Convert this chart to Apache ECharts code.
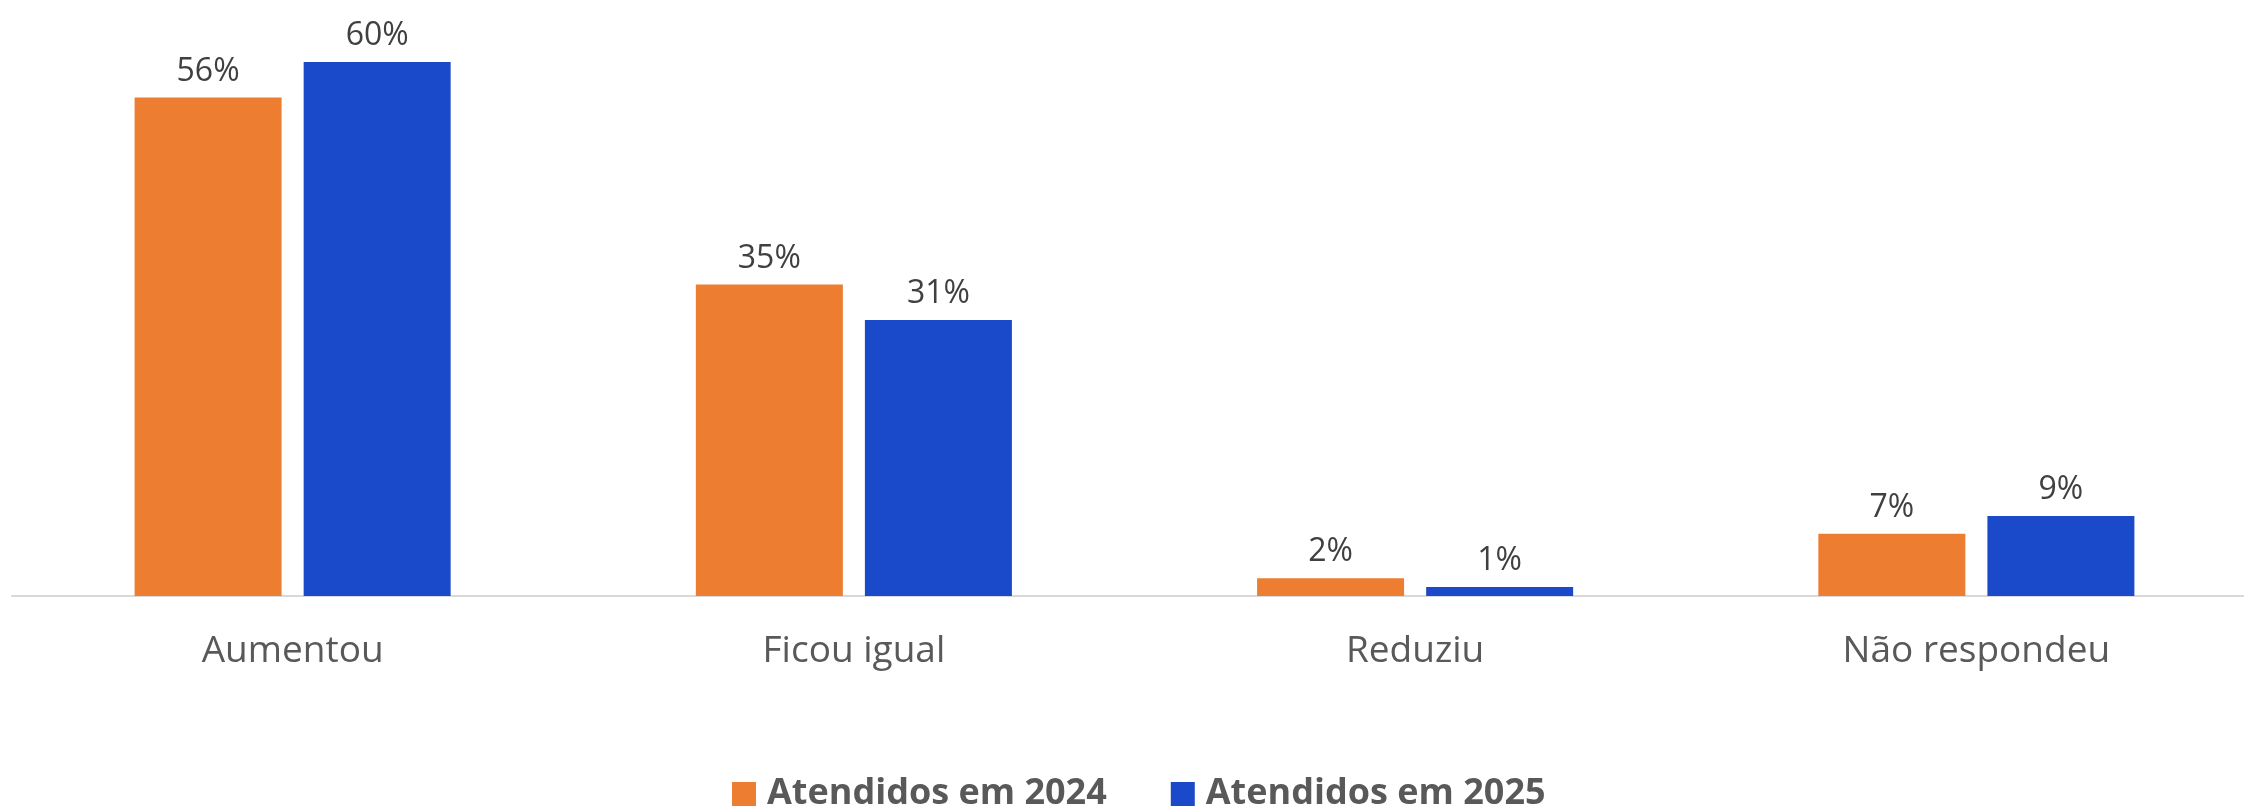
<!DOCTYPE html>
<html>
<head>
<meta charset="utf-8">
<script src="https://cdn.jsdelivr.net/npm/echarts@6/dist/echarts.min.js"></script>
<style>
html,body{margin:0;padding:0;background:#fff;}
#chart{width:2244px;height:807px;}
</style>
</head>
<body>
<div id="chart"></div>
<script>
const categories = ['Aumentou', 'Ficou igual', 'Reduziu', 'Não respondeu'];
const seriesNames = ['Atendidos em 2024', 'Atendidos em 2025'];
const values2024 = [56, 35, 2, 7];
const values2025 = [60, 31, 1, 9];
const colors = ['#ED7D31', '#1A4ACA'];

const chart = echarts.init(document.getElementById('chart'), null, {renderer: 'canvas'});
const labelStyle = {
  show: true,
  position: 'top',
  distance: 10,
  formatter: '{c}%',
  fontFamily: 'Open Sans',
  fontSize: 32,
  color: '#404040'
};
chart.setOption({
  animation: false,
  grid: {left: 12, width: 2245, top: 62, bottom: 211, containLabel: false, outerBoundsMode: 'none'},
  legend: {
    left: 732,
    top: 776,
    padding: 0,
    itemWidth: 24,
    itemHeight: 24,
    itemGap: 64,
    icon: 'rect',
    textStyle: {fontFamily: 'Open Sans', fontWeight: 'bold', fontSize: 36, color: '#595959', padding: [0, 0, 0, 6]},
    data: seriesNames
  },
  xAxis: {
    type: 'category',
    data: categories,
    axisLine: {lineStyle: {color: '#d9d9d9', width: 2}},
    axisTick: {show: false},
    axisLabel: {fontFamily: 'Open Sans', fontSize: 37, color: '#595959', margin: 37}
  },
  yAxis: {
    type: 'value',
    min: 0,
    max: 60,
    show: false,
    splitLine: {show: false}
  },
  series: [
    {name: seriesNames[0], type: 'bar', data: values2024, barWidth: 147, barGap: '15%', itemStyle: {color: colors[0]}, label: labelStyle},
    {name: seriesNames[1], type: 'bar', data: values2025, barWidth: 147, barGap: '15%', itemStyle: {color: colors[1]}, label: labelStyle}
  ]
});
</script>
</body>
</html>
